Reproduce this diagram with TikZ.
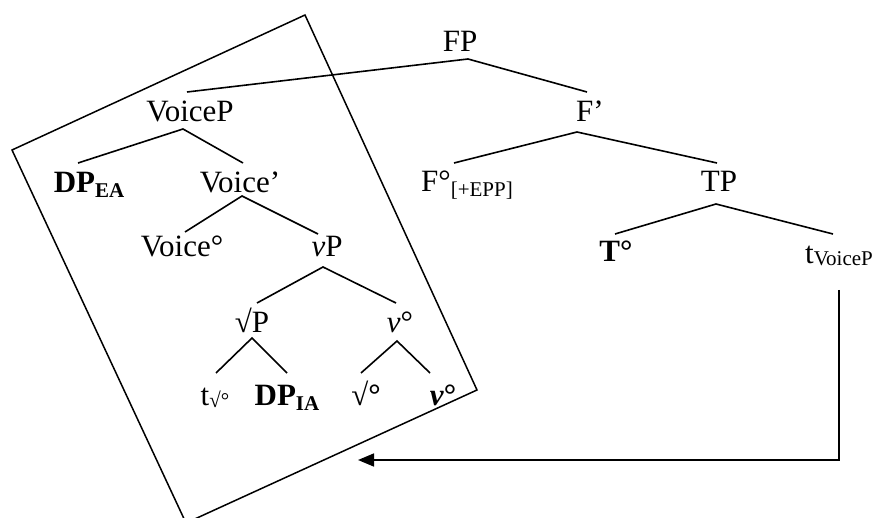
\documentclass[tikz,border=0pt]{standalone}
\usepackage{fontspec}
\setmainfont{Liberation Serif}
\usetikzlibrary{arrows.meta}
\newcommand{\subsc}[2][5pt]{\raisebox{-#1}{\fontsize{21}{24}\selectfont #2}}
\begin{document}
\begin{tikzpicture}[x=1pt,y=-1pt, line width=1.6pt,
  lab/.style={anchor=base, inner sep=0pt, font=\fontsize{31}{36}\selectfont},
  branch/.style={line width=1.6pt},
  movearrow/.style={line width=1.6pt, -{Triangle[length=16pt,width=13pt]}}]
\useasboundingbox (0,0) rectangle (875,518);
% phase box
\draw[line width=1.5pt] (305,15) -- (12,150) -- (186,523) -- (477,390) -- cycle;
% nodes
\node[lab] (FP) at (460,52) {FP};
\node[lab] (VoiceP) at (190,122) {VoiceP};
\node[lab] (Fbar) at (590,122) {F’};
\node[lab] (DPEA) at (89,193) {\textbf{DP}\subsc{\textbf{EA}}};
\node[lab] (Voicebar) at (240,193) {Voice’};
\node[lab] (Fhead) at (467,192) {F°\subsc{[+EPP]}};
\node[lab] (TP) at (719,192) {TP};
\node[lab] (Voicehead) at (182,257) {Voice°};
\node[lab] (vP) at (327,257) {\textit{v}P};
\node[lab] (Thead) at (616,262) {\textbf{T°}};
\node[lab] (tVoiceP) at (839,264) {t\subsc[2pt]{VoiceP}};
\node[lab] (rootP) at (252,333) {√P};
\node[lab] (vhead) at (400,333) {\textit{v}°};
\node[lab] (troot) at (215,405) {t\subsc[2pt]{√°}};
\node[lab] (DPIA) at (287,405) {\textbf{DP}\subsc{\textbf{IA}}};
\node[lab] (roothead) at (366,405) {√\textbf{°}};
\node[lab] (vheadb) at (443,405) {\textbf{\textit{v}°}};
% branches
\draw[branch] ([shift={(-3,-30)}]VoiceP.base) -- ([shift={(8,7)}]FP.base) -- ([shift={(-3,-30)}]Fbar.base);
\draw[branch] ([shift={(-11,-30)}]DPEA.base) -- ([shift={(-7,7)}]VoiceP.base) -- ([shift={(3,-30)}]Voicebar.base);
\draw[branch] ([shift={(3,-25)}]Voicehead.base) -- ([shift={(2,3)}]Voicebar.base) -- ([shift={(-9,-23)}]vP.base);
\draw[branch] ([shift={(5,-30)}]rootP.base) -- ([shift={(-4,10)}]vP.base) -- ([shift={(-4,-30)}]vhead.base);
\draw[branch] ([shift={(1,-32)}]troot.base) -- ([shift={(0,5)}]rootP.base) -- ([shift={(0,-32)}]DPIA.base);
\draw[branch] ([shift={(-5,-32)}]roothead.base) -- ([shift={(-3,8)}]vhead.base) -- ([shift={(-13,-32)}]vheadb.base);
\draw[branch] ([shift={(-13,-29)}]Fhead.base) -- ([shift={(-13,10)}]Fbar.base) -- ([shift={(-2,-29)}]TP.base);
\draw[branch] ([shift={(-1,-28)}]Thead.base) -- ([shift={(-3,12)}]TP.base) -- ([shift={(-6,-30)}]tVoiceP.base);
% movement arrow
\coordinate (landing) at (358,460);
\draw[movearrow] ([shift={(0,26)}]tVoiceP.base) |- (landing);
\end{tikzpicture}
\end{document}
